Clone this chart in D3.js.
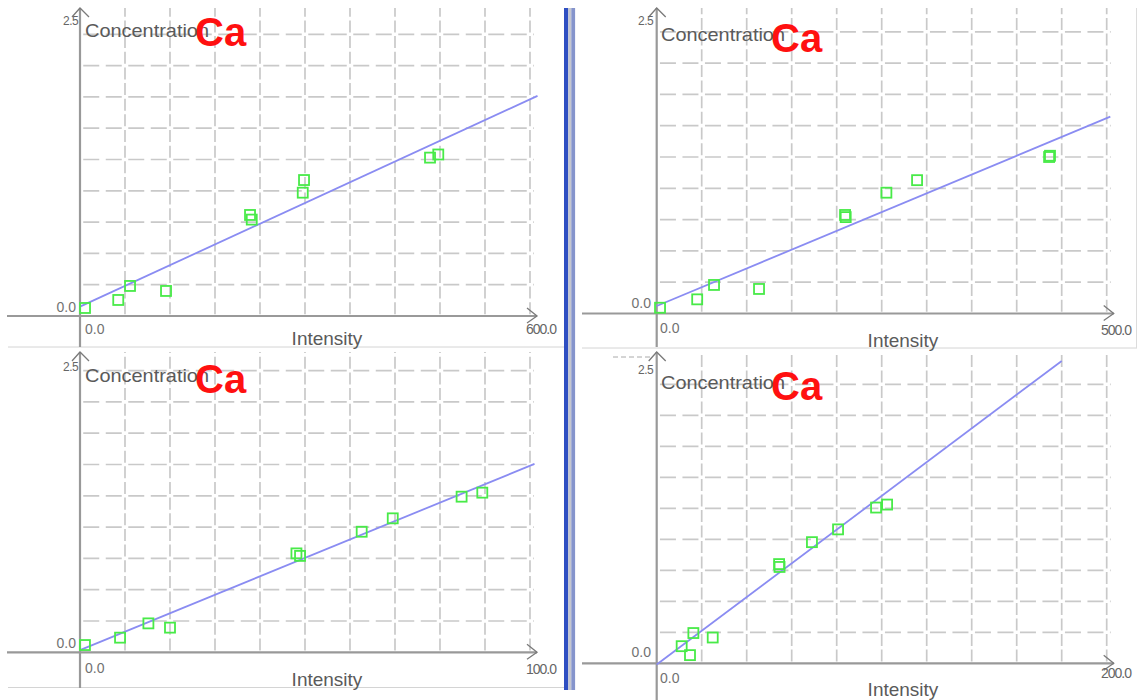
<!DOCTYPE html>
<html>
<head>
<meta charset="utf-8">
<script src="https://cdn.jsdelivr.net/npm/d3@7"></script>
<style>
  body { margin: 0; background: #fff; }
  svg { display: block; font-family: "Liberation Sans", Arial, sans-serif; }
</style>
</head>
<body>
<svg id="chart" width="1139" height="700"></svg>
<script>
// Ca calibration curves for four intensity ranges
const element = "Ca";
const yTitle = "Concentration";
const xTitle = "Intensity";
const concMax = 2.5;
const intensityMax = [600, 500, 100, 200];

// measured standards (intensity, concentration) per range
const intensityA = [6.7, 51, 66.7, 114.7, 226.7, 229, 298.7, 297, 466.7, 477.7];
const concA      = [0.064, 0.128, 0.24, 0.20, 0.807, 0.77, 1.086, 0.985, 1.265, 1.29];
const intensityB = [3.7, 45, 63.7, 113.7, 209.3, 210, 255.2, 289.3, 437, 436];
const concB      = [0.046, 0.113, 0.228, 0.196, 0.787, 0.77, 0.965, 1.065, 1.26, 1.25];
const intensityC = [1.1, 8.9, 15.2, 20, 48.1, 48.9, 62.6, 69.5, 84.8, 89.4];
const concC      = [0.058, 0.117, 0.231, 0.197, 0.79, 0.77, 0.963, 1.07, 1.243, 1.275];
const intensityD = [11.1, 14.8, 16.3, 24.9, 54.4, 54.6, 69, 80.6, 97.5, 102.4];
const concD      = [0.138, 0.066, 0.244, 0.208, 0.80, 0.777, 0.977, 1.08, 1.256, 1.28];

// fitted calibration lines: concentration = intercept + slope * intensity
const fitIntercept = [0.075, 0.06, 0.018, -0.01];
const fitSlope     = [0.00276, 0.0030, 0.01472, 0.0136];
const fitEnd       = [610, 504, 101, 180];

const intensities = [intensityA, intensityB, intensityC, intensityD];
const concs = [concA, concB, concC, concD];

// panel geometry
const panels = [
  { ox: 80,  oy: 316,   top: 8,   axL: 7,   axB: 347, w: 450, h: 313,
    yTop: [78, 25],  yZero: [76, 312],  xZero: [85, 334],  xMaxL: [541, 334],
    xT: [327, 345],  yT: [85, 37],  ca: [195, 46] },
  { ox: 656.7, oy: 313.5, top: 8, axL: 582, axB: 347, w: 450, h: 313,
    yTop: [653, 25], yZero: [651, 308], xZero: [660, 333], xMaxL: [1116, 335],
    xT: [903, 347],  yT: [661, 41], ca: [771, 52] },
  { ox: 80,  oy: 652.3, top: 352, axL: 7,   axB: 688, w: 450, h: 313,
    yTop: [78, 371], yZero: [76, 648], xZero: [85, 673], xMaxL: [541, 674],
    xT: [327, 686],  yT: [85, 382], ca: [195, 393] },
  { ox: 656.7, oy: 663.3, top: 352, axL: 582, axB: 700, w: 450, h: 310,
    yTop: [653, 374], yZero: [651, 657], xZero: [660, 683], xMaxL: [1116, 678],
    xT: [903, 696],  yT: [661, 389], ca: [771, 400] }
];

const svg = d3.select("#chart");

const gridColor = "#c9c9c9";
const axisColor = "#999";

// frame: separators between the four panels
svg.append("line").attr("x1", 8).attr("x2", 564).attr("y1", 347).attr("y2", 347)
  .attr("stroke", "#d4d4d4").attr("stroke-width", 1);
svg.append("line").attr("x1", 582).attr("x2", 1137).attr("y1", 348).attr("y2", 348)
  .attr("stroke", "#d4d4d4").attr("stroke-width", 1);
svg.append("line").attr("x1", 8).attr("x2", 564).attr("y1", 687.5).attr("y2", 687.5)
  .attr("stroke", "#d4d4d4").attr("stroke-width", 1);
svg.append("line").attr("x1", 1136.5).attr("x2", 1136.5).attr("y1", 8).attr("y2", 348)
  .attr("stroke", "#dcdcdc").attr("stroke-width", 1);

// double blue divider
svg.append("rect").attr("x", 564).attr("y", 8).attr("width", 4.3).attr("height", 682).attr("fill", "#2f4fc2");
svg.append("rect").attr("x", 568.3).attr("y", 8).attr("width", 3).attr("height", 682).attr("fill", "#c4c6cf");
svg.append("rect").attr("x", 571.3).attr("y", 8).attr("width", 3.8).attr("height", 682).attr("fill", "#8594cc");

panels.forEach((p, i) => {
  const g = svg.append("g");
  const x = d3.scaleLinear().domain([0, intensityMax[i]]).range([p.ox, p.ox + p.w]);
  const y = d3.scaleLinear().domain([0, concMax]).range([p.oy, p.oy - p.h]);

  const xGrid = d3.range(1, 11).map(k => intensityMax[i] * k / 10);
  const yGrid = d3.range(1, 10).map(k => concMax * k / 10);

  // dashed grid: dashes centred on each crossing
  const hDash = 16, hGap = 6.5;
  g.selectAll(".hg").data(yGrid).join("line")
    .attr("x1", p.ox).attr("x2", x(intensityMax[i]) + 4)
    .attr("y1", d => y(d)).attr("y2", d => y(d))
    .attr("stroke", gridColor).attr("stroke-width", 1.7)
    .attr("stroke-dasharray", `${hDash},${hGap}`)
    .attr("stroke-dashoffset", -hGap / 2);
  const vDash = 12, vGap = (p.h / 10) / 2 - 12;
  g.selectAll(".vg").data(xGrid).join("line")
    .attr("x1", d => x(d)).attr("x2", d => x(d))
    .attr("y1", p.oy).attr("y2", p.top)
    .attr("stroke", gridColor).attr("stroke-width", 1.7)
    .attr("stroke-dasharray", `${vDash},${vGap}`)
    .attr("stroke-dashoffset", -vGap / 2);

  // axes
  g.append("line").attr("x1", p.axL).attr("x2", x(intensityMax[i]) + 7)
    .attr("y1", p.oy).attr("y2", p.oy)
    .attr("stroke", axisColor).attr("stroke-width", 2.2);
  g.append("line").attr("x1", p.ox).attr("x2", p.ox)
    .attr("y1", p.axB).attr("y2", p.top)
    .attr("stroke", axisColor).attr("stroke-width", 2.2);
  // arrow heads
  const xe = x(intensityMax[i]) + 7;
  g.append("path").attr("d", `M${xe - 10},${p.oy - 8}L${xe},${p.oy}L${xe - 10},${p.oy + 7}`)
    .attr("fill", "none").attr("stroke", "#7a7a7a").attr("stroke-width", 1.3);
  g.append("path").attr("d", `M${p.ox - 8},${p.top + 9}L${p.ox},${p.top}L${p.ox + 9},${p.top + 9}`)
    .attr("fill", "none").attr("stroke", "#7a7a7a").attr("stroke-width", 1.3);

  // tick labels
  g.append("text").attr("x", p.yTop[0]).attr("y", p.yTop[1]).attr("text-anchor", "end")
    .attr("font-size", 12).attr("fill", "#666").attr("letter-spacing", -0.6)
    .text(concMax.toFixed(1));
  g.append("text").attr("x", p.yZero[0]).attr("y", p.yZero[1]).attr("text-anchor", "end")
    .attr("font-size", 14).attr("fill", "#727272").text((0).toFixed(1));
  g.append("text").attr("x", p.xZero[0]).attr("y", p.xZero[1])
    .attr("font-size", 14).attr("fill", "#727272").text((0).toFixed(1));
  g.append("text").attr("x", p.xMaxL[0]).attr("y", p.xMaxL[1]).attr("text-anchor", "middle")
    .attr("font-size", 14).attr("fill", "#666").attr("letter-spacing", -1)
    .text(intensityMax[i].toFixed(1));

  // axis titles
  g.append("text").attr("x", p.xT[0]).attr("y", p.xT[1]).attr("text-anchor", "middle")
    .attr("font-size", 19).attr("fill", "#5a5a5a").text(xTitle);
  g.append("text").attr("x", p.yT[0]).attr("y", p.yT[1])
    .attr("font-size", 19).attr("fill", "#5a5a5a")
    .attr("textLength", 124).attr("lengthAdjust", "spacingAndGlyphs").text(yTitle);
  g.append("text").attr("x", p.ca[0]).attr("y", p.ca[1])
    .attr("font-size", 40).attr("font-weight", "bold").attr("fill", "#ff1010")
    .text(element);

  // calibration line
  const fit = d3.line().x(d => x(d)).y(d => y(fitIntercept[i] + fitSlope[i] * d));
  g.append("path").datum([0, fitEnd[i]]).attr("d", fit)
    .attr("fill", "none").attr("stroke", "#8a8cf2").attr("stroke-width", 1.8);

  // standards
  const pts = intensities[i].map((v, k) => [v, concs[i][k]]);
  g.selectAll(".pt").data(pts).join("rect")
    .attr("x", d => x(d[0]) - 5).attr("y", d => y(d[1]) - 5)
    .attr("width", 10).attr("height", 10)
    .attr("fill", "none").attr("stroke", "#48ea48").attr("stroke-width", 1.8);
});

// stray dashed stub at the top of the lower-right panel
svg.append("line").attr("x1", 613).attr("x2", 652).attr("y1", 357).attr("y2", 357)
  .attr("stroke", "#aaa").attr("stroke-width", 1).attr("stroke-dasharray", "5,3");
</script>
</body>
</html>
